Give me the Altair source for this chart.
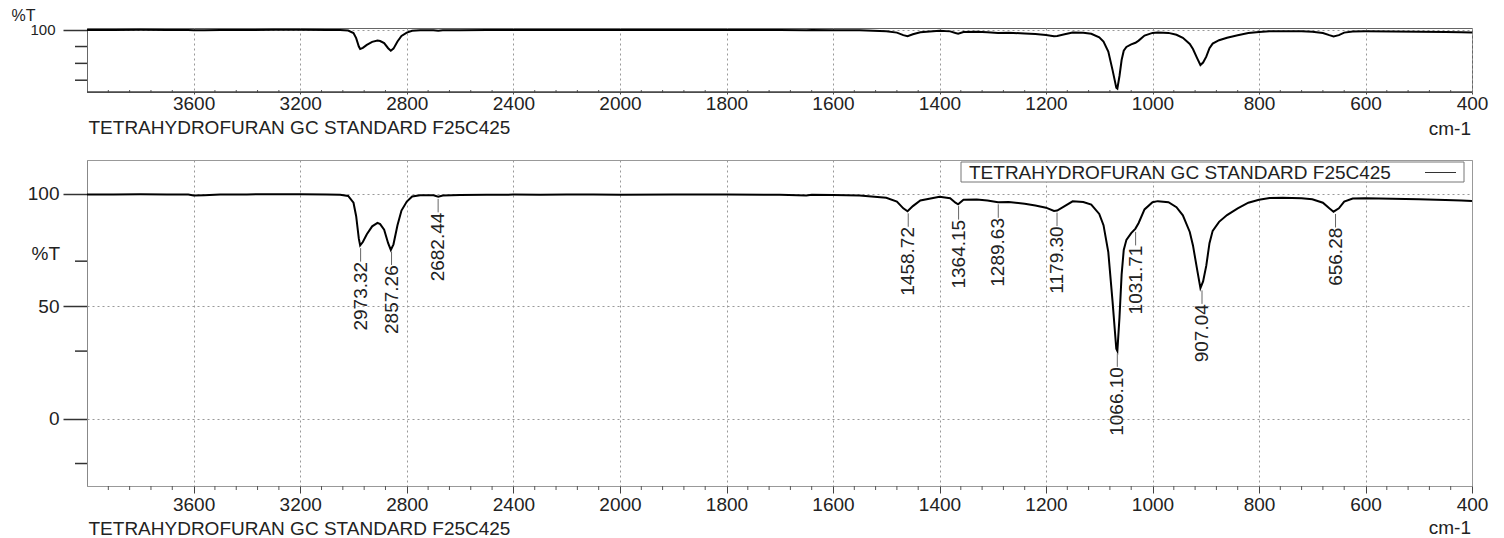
import altair as alt
import pandas as pd

# ---------------- data ----------------
wavenumber = [4000, 3900, 3800, 3700, 3620, 3600, 3560, 3500, 3400, 3300, 3200, 3100,
              3050, 3020, 3000, 2990, 2980, 2975, 2965, 2950, 2930, 2910, 2900, 2885,
              2870, 2860, 2850, 2835, 2820, 2800, 2780, 2750, 2700, 2682, 2665, 2600,
              2500, 2400, 2300, 2200, 2100, 2000, 1900, 1800, 1700, 1650, 1640, 1600,
              1550, 1500, 1480, 1468, 1460, 1450, 1436, 1400, 1380, 1370, 1365, 1355,
              1330, 1310, 1290, 1270, 1240, 1220, 1200, 1185, 1179, 1165, 1150, 1130,
              1115, 1100, 1092, 1083, 1075, 1068, 1066, 1062, 1058, 1054, 1049, 1040,
              1032, 1026, 1015, 1000, 990, 970, 955, 943, 930, 924, 916, 910, 905, 899,
              893, 887, 875, 860, 840, 820, 800, 780, 756, 720, 700, 680, 668, 660, 650,
              640, 624, 600, 550, 500, 450, 420, 400]
transmittance = [99.7, 99.7, 99.8, 99.7, 99.6, 99.2, 99.3, 99.6, 99.7, 99.8, 99.8, 99.7,
                 99.5, 99.0, 96.0, 90.0, 80.0, 77.0, 78.5, 82.0, 85.5, 87.0, 86.5, 84.0,
                 78.0, 75.0, 77.5, 86.0, 92.5, 96.5, 98.8, 99.3, 99.3, 98.7, 99.2, 99.4,
                 99.5, 99.6, 99.5, 99.6, 99.6, 99.5, 99.6, 99.6, 99.5, 99.2, 99.5, 99.4,
                 99.2, 98.2, 96.5, 93.5, 92.2, 94.5, 97.0, 98.6, 98.0, 96.0, 95.3, 97.3,
                 97.4, 97.0, 96.2, 96.3, 95.5, 94.8, 93.8, 92.3, 92.5, 94.5, 96.6, 96.3,
                 95.2, 91.0, 86.0, 74.0, 52.0, 31.0, 30.0, 45.0, 64.0, 75.0, 79.5, 82.5,
                 84.5, 87.0, 93.0, 96.2, 96.7, 96.2, 94.0, 90.4, 83.0, 77.0, 66.0, 58.0,
                 61.0, 68.0, 78.0, 83.5, 87.5, 90.5, 93.5, 96.0, 97.3, 98.1, 98.2, 98.0,
                 97.5, 96.0, 93.5, 92.0, 93.5, 96.5, 97.9, 98.0, 97.8, 97.5, 97.2, 97.0,
                 96.8]

peak_labels = ["2973.32", "2857.26", "2682.44", "1458.72", "1364.15", "1289.63",
               "1179.30", "1066.10", "1031.71", "907.04", "656.28"]
peak_wn = [2973.32, 2857.26, 2682.44, 1458.72, 1364.15, 1289.63,
           1179.30, 1066.10, 1031.71, 907.04, 656.28]
peak_t = [76.8, 75.3, 98.7, 92.3, 95.5, 96.3, 92.6, 30.0, 84.0, 58.0, 92.0]

major_ticks = [3600, 3200, 2800, 2400, 2000, 1800, 1600, 1400, 1200, 1000, 800, 600, 400]
minor_ticks = ([w for w in range(3920, 2000, -80) if w % 400]
               + [w for w in range(1960, 400, -40) if w % 200])
top_y_ticks = [100]
top_y_minor = [80, 60, 40]
bottom_y_ticks = [0, 50, 100]
bottom_y_minor = [70, 30, -20]

series_name = "TETRAHYDROFURAN GC STANDARD F25C425"
x_unit = "cm-1"
y_title = "%T"

# ---------------- layout ----------------
W = 1385
H_TOP = 64
H_BOT = 326
FONT = "Liberation Sans"
TXT = "#222"
FS = 19

spec = pd.DataFrame({"wn": wavenumber, "t": transmittance})
peaks = pd.DataFrame({"wn": peak_wn, "t": peak_t, "label": peak_labels})
minor = pd.DataFrame({"wn": minor_ticks})
one = pd.DataFrame({"s": [series_name], "u": [x_unit]})

x_scale = alt.Scale(domain=[4000, 2000, 400], range=[0, 533, W], nice=False, zero=False)


def x_axis(title_y, tick_size, label_pad):
    return alt.Axis(values=major_ticks, format="d", title=series_name, titleX=1,
                    titleY=title_y, titleAlign="left", titleBaseline="middle",
                    titleFont=FONT, titleFontSize=FS, titleFontWeight="normal",
                    titleColor=TXT, labelFont=FONT, labelFontSize=FS, labelColor=TXT,
                    labelPadding=label_pad, labelFlush=False, labelOverlap=False,
                    tickSize=tick_size, tickColor="#444", grid=True, gridColor="#999",
                    gridDash=[2, 3], gridWidth=1, domain=False)


def x_enc(axis):
    return alt.X("wn:Q", scale=x_scale, axis=axis)


# ---------------- top overview panel ----------------
top_y_scale = alt.Scale(domain=[26, 102], nice=False, zero=False)
top_line = alt.Chart(spec).mark_line(color="black", strokeWidth=2).encode(
    x=x_enc(x_axis(35, 2, 0)),
    y=alt.Y("t:Q", scale=top_y_scale,
            axis=alt.Axis(values=top_y_ticks, tickSize=24, tickColor="#333", tickWidth=1.5,
                          labelFont=FONT, labelFontSize=15, labelColor=TXT, labelPadding=8,
                          grid=True, gridColor="#999", gridDash=[2, 3], domainColor="#666",
                          title=y_title, titleAngle=0, titleX=-76, titleY=-13,
                          titleAlign="left", titleBaseline="middle", titleFont=FONT,
                          titleFontSize=16, titleFontWeight="normal", titleColor=TXT)),
    order=alt.Order("wn:Q", sort="descending"),
)
top_minor_y = alt.Chart(pd.DataFrame({"v": top_y_minor})).mark_rule(
    color="#333", strokeWidth=1.5).encode(
    y=alt.Y("v:Q", scale=top_y_scale), x=alt.value(-12), x2=alt.value(0))
top_minor_x = alt.Chart(minor).mark_rule(color="#555").encode(
    x=alt.X("wn:Q", scale=x_scale), y=alt.value(H_TOP - 2), y2=alt.value(H_TOP + 1))
top_unit = alt.Chart(one).mark_text(align="right", baseline="middle", font=FONT,
                                    fontSize=FS, color=TXT).encode(
    x=alt.value(W - 1), y=alt.value(H_TOP + 37), text="u:N")
top_bottom_line = alt.Chart(one).mark_rule(color="#444", strokeWidth=1.5).encode(
    x=alt.value(0), x2=alt.value(W), y=alt.value(H_TOP))

top = alt.layer(top_line, top_minor_y, top_minor_x, top_unit, top_bottom_line).properties(
    width=W, height=H_TOP, view=alt.ViewBackground(stroke="#666", strokeWidth=1))

# ---------------- main panel ----------------
bot_y_scale = alt.Scale(domain=[-30, 115], nice=False, zero=False)
main_line = alt.Chart(spec).mark_line(color="black", strokeWidth=2).encode(
    x=x_enc(x_axis(42, 7, 2)),
    y=alt.Y("t:Q", scale=bot_y_scale,
            axis=alt.Axis(values=bottom_y_ticks, tickSize=24, tickColor="#333",
                          tickWidth=1.5, labelFont=FONT, labelFontSize=FS, labelColor=TXT,
                          labelPadding=4, grid=True, gridColor="#999", gridDash=[2, 3],
                          domainColor="#888", title=y_title, titleAngle=0, titleX=-56,
                          titleY=93, titleAlign="left", titleBaseline="middle",
                          titleFont=FONT, titleFontSize=FS, titleFontWeight="normal",
                          titleColor=TXT)),
    order=alt.Order("wn:Q", sort="descending"),
)
main_minor_y = alt.Chart(pd.DataFrame({"v": bottom_y_minor})).mark_rule(
    color="#333", strokeWidth=1.5).encode(
    y=alt.Y("v:Q", scale=bot_y_scale), x=alt.value(-12), x2=alt.value(0))
main_minor_x = alt.Chart(minor).mark_rule(color="#555").encode(
    x=alt.X("wn:Q", scale=x_scale), y=alt.value(H_BOT), y2=alt.value(H_BOT + 4))
leaders = alt.Chart(peaks).transform_calculate(
    t1="datum.t - 1", t2="datum.t - 7").mark_rule(color="#666", strokeWidth=1).encode(
    x=alt.X("wn:Q", scale=x_scale), y=alt.Y("t1:Q", scale=bot_y_scale), y2="t2:Q")
peak_text = alt.Chart(peaks).mark_text(angle=270, align="right", baseline="middle",
                                       dx=-16, font=FONT, fontSize=FS, color=TXT).encode(
    x=alt.X("wn:Q", scale=x_scale), y=alt.Y("t:Q", scale=bot_y_scale), text="label:N")
legend_box = alt.Chart(one).mark_rect(fill="white", stroke="#777", strokeWidth=1).encode(
    x=alt.value(874), x2=alt.value(1377), y=alt.value(2), y2=alt.value(22))
legend_text = alt.Chart(one).mark_text(align="left", baseline="middle", font=FONT,
                                       fontSize=FS, color=TXT).encode(
    x=alt.value(882), y=alt.value(12.5), text="s:N")
legend_sym = alt.Chart(one).mark_rule(color="#333", strokeWidth=1).encode(
    x=alt.value(1338), x2=alt.value(1369), y=alt.value(12.5))
main_unit = alt.Chart(one).mark_text(align="right", baseline="middle", font=FONT,
                                     fontSize=FS, color=TXT).encode(
    x=alt.value(W - 1), y=alt.value(H_BOT + 42), text="u:N")

main = alt.layer(main_line, main_minor_y, main_minor_x, leaders, peak_text,
                 legend_box, legend_text, legend_sym, main_unit).properties(
    width=W, height=H_BOT, view=alt.ViewBackground(stroke="#999", strokeWidth=1))

chart = alt.VConcatChart(vconcat=[top, main], spacing=68, bounds="flush").properties(
    padding={"left": 10, "top": 6, "right": 5, "bottom": 2},
    background="white",
).configure_view(strokeWidth=1)

chart.save("out.html", embed_options={"renderer": "svg", "actions": False})
